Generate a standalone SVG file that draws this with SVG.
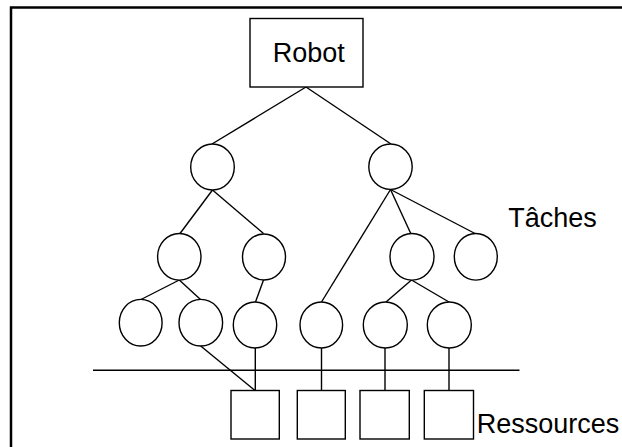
<svg xmlns="http://www.w3.org/2000/svg" width="622" height="447" viewBox="0 0 622 447">
<style>
.n{fill:#fff;stroke:#000;stroke-width:1.4}
.e line{stroke:#000;stroke-width:1.4}
text{font-family:"Liberation Sans",Arial,sans-serif;font-size:27px;fill:#000}
</style>
<rect x="0" y="0" width="622" height="447" fill="#fff"/>
<rect id="frame" x="11" y="7.5" width="700" height="500" fill="none" stroke="#000" stroke-width="2.5"/>
<g class="e" id="connectors">
<line x1="306" y1="87" x2="212" y2="144"/>
<line x1="306" y1="87" x2="391" y2="144"/>
<line x1="212.5" y1="190" x2="180" y2="233.5"/>
<line x1="212.5" y1="190" x2="263.5" y2="233.5"/>
<line x1="390.5" y1="189.5" x2="411" y2="234"/>
<line x1="390.5" y1="189.5" x2="476" y2="234"/>
<line x1="390.5" y1="189.5" x2="321.5" y2="302"/>
<line x1="179.3" y1="280" x2="141" y2="299.5"/>
<line x1="179.3" y1="280" x2="200.5" y2="299.5"/>
<line x1="263.5" y1="280" x2="255.5" y2="302"/>
<line x1="411.5" y1="280" x2="386" y2="302"/>
<line x1="411.5" y1="280" x2="449" y2="302"/>
<line x1="200.7" y1="346" x2="255" y2="390.5"/>
<line x1="255.3" y1="348" x2="255.3" y2="390.5"/>
<line x1="321.5" y1="348" x2="321.5" y2="390.5"/>
<line x1="385" y1="348" x2="385" y2="390.5"/>
<line x1="449" y1="348" x2="449" y2="390.5"/>
<line x1="93" y1="370.3" x2="519.5" y2="370.3"/>
</g>
<g id="robot"><rect class="n" x="250" y="18.5" width="113" height="68.5"/><text x="308.7" y="61.7" text-anchor="middle">Robot</text></g>
<g id="t1"><ellipse class="n" cx="212.5" cy="167" rx="21.8" ry="23"/></g>
<g id="t2"><ellipse class="n" cx="390.5" cy="166.7" rx="21.7" ry="22.7"/></g>
<g id="t11"><ellipse class="n" cx="179.3" cy="256.8" rx="21.7" ry="23.3"/></g>
<g id="t12"><ellipse class="n" cx="264" cy="257" rx="21.5" ry="23"/></g>
<g id="t21"><ellipse class="n" cx="412" cy="256.8" rx="22" ry="23.3"/></g>
<g id="t22"><ellipse class="n" cx="475.8" cy="256.8" rx="21.5" ry="23.3"/></g>
<g id="t111"><ellipse class="n" cx="140.7" cy="322.7" rx="21.4" ry="23.3"/></g>
<g id="t112"><ellipse class="n" cx="200.8" cy="322.7" rx="21.8" ry="23.3"/></g>
<g id="t121"><ellipse class="n" cx="255" cy="325" rx="21.7" ry="23"/></g>
<g id="t2a"><ellipse class="n" cx="321.3" cy="325" rx="21.3" ry="23"/></g>
<g id="t211"><ellipse class="n" cx="385.3" cy="325" rx="22" ry="23"/></g>
<g id="t212"><ellipse class="n" cx="449.3" cy="325" rx="22" ry="23"/></g>
<g id="r1"><rect class="n" x="231" y="390.5" width="48.3" height="48.5"/></g>
<g id="r2"><rect class="n" x="297.3" y="390.5" width="48" height="48.5"/></g>
<g id="r3"><rect class="n" x="360" y="390.5" width="49.3" height="48.5"/></g>
<g id="r4"><rect class="n" x="424.3" y="390.5" width="49.2" height="48.5"/></g>
<g id="lbl-taches"><text x="508.3" y="227.3">Tâches</text></g>
<g id="lbl-ressources"><text x="476.7" y="433.3">Ressources</text></g>
</svg>
